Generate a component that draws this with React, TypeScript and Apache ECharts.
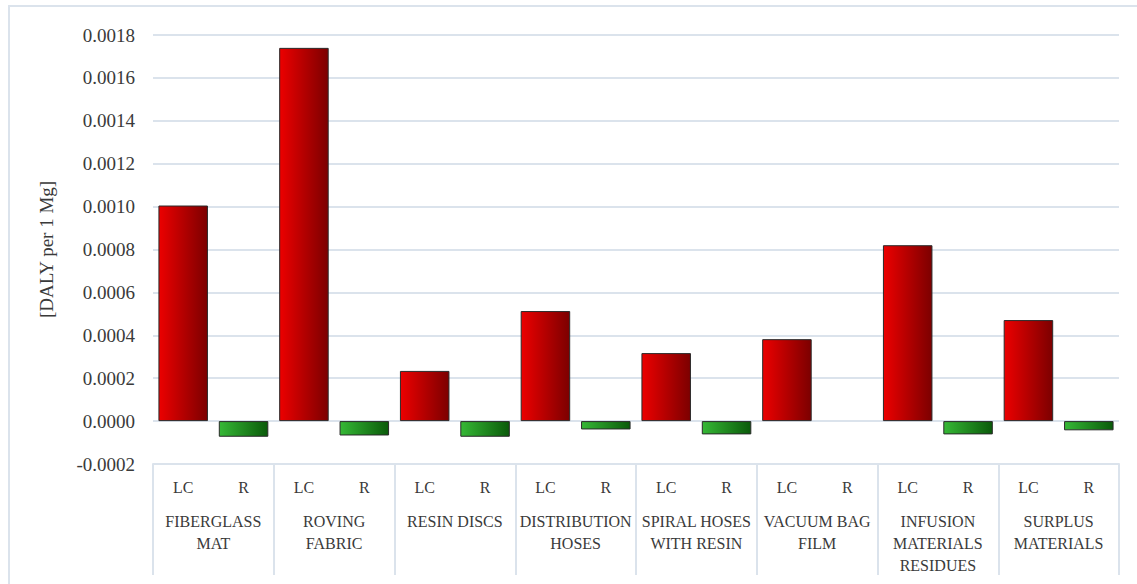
import React, { useEffect, useRef } from "react";
import * as echarts from "echarts";

// Material groups shown along the lower axis row
const groups = [
  "FIBERGLASS\nMAT",
  "ROVING\nFABRIC",
  "RESIN DISCS",
  "DISTRIBUTION\nHOSES",
  "SPIRAL HOSES\nWITH RESIN",
  "VACUUM BAG\nFILM",
  "INFUSION\nMATERIALS\nRESIDUES",
  "SURPLUS\nMATERIALS",
];

// Sub-categories inside every group
const subCategories = ["LC", "R"];

// [DALY per 1 Mg] for each group
const lcValues = [0.001005, 0.00174, 0.000234, 0.000513, 0.000317, 0.000382, 0.00082, 0.000471];
const rValues = [-0.000073, -0.000067, -0.000073, -0.000039, -0.000062, 0, -0.000062, -0.000043];

const yTicks = { min: -0.0002, max: 0.0018, interval: 0.0002 };

const FONT = "Liberation Serif";
const GRID_COLOR = "#dbe3ec";
const TEXT_COLOR = "#3a3a3a";

const redFill = new echarts.graphic.LinearGradient(0, 0, 1, 0, [
  { offset: 0, color: "#ec0000" },
  { offset: 1, color: "#7c0000" },
]);
const greenFill = new echarts.graphic.LinearGradient(0, 0, 1, 0, [
  { offset: 0, color: "#36b836" },
  { offset: 1, color: "#0a5a0a" },
]);

// zero-valued bars get no outline so that they stay invisible
const barItem = (value: number, fill: any) => ({
  value,
  itemStyle: { color: fill, borderWidth: value === 0 ? 0 : 1 },
});

export default function App() {
  const ref = useRef<HTMLDivElement>(null);

  useEffect(() => {
    document.body.style.margin = "0";
    if (!ref.current) return;
    const chart = echarts.init(ref.current, undefined, { renderer: "svg" });

    const subAxis: string[] = [];
    const barData: any[] = [];
    groups.forEach((_, i) => {
      subAxis.push(subCategories[0], subCategories[1]);
      barData.push(barItem(lcValues[i], redFill));
      barData.push(barItem(rValues[i], greenFill));
    });

    chart.setOption({
      animation: false,
      backgroundColor: "#ffffff",
      textStyle: { fontFamily: FONT },
      graphic: [
        {
          type: "rect",
          shape: { x: 9, y: 6, width: 1140, height: 600 },
          style: { fill: "none", stroke: GRID_COLOR, lineWidth: 2 },
          silent: true,
        },
      ],
      grid: { left: 153, right: 18, top: 35, bottom: 120 },
      xAxis: [
        {
          type: "category",
          data: subAxis,
          position: "bottom",
          axisLine: { show: true, onZero: false, lineStyle: { color: GRID_COLOR, width: 2 } },
          axisTick: { show: false },
          axisLabel: {
            interval: 0,
            margin: 15,
            fontFamily: FONT,
            fontSize: 16,
            color: TEXT_COLOR,
          },
        },
        {
          type: "category",
          data: groups,
          position: "bottom",
          axisLine: { show: false, onZero: false },
          axisTick: {
            show: true,
            interval: 0,
            length: 111,
            lineStyle: { color: GRID_COLOR, width: 2 },
          },
          axisLabel: {
            interval: 0,
            margin: 46,
            fontFamily: FONT,
            fontSize: 16,
            lineHeight: 22,
            color: TEXT_COLOR,
            verticalAlign: "top",
          },
        },
      ],
      yAxis: {
        type: "value",
        min: yTicks.min,
        max: yTicks.max,
        interval: yTicks.interval,
        name: "[DALY per 1 Mg]",
        nameLocation: "middle",
        nameGap: 97,
        nameRotate: 90,
        nameTextStyle: { fontFamily: FONT, fontSize: 19, color: TEXT_COLOR },
        axisLine: { show: false },
        axisTick: { show: false },
        splitLine: { lineStyle: { color: GRID_COLOR, width: 2 } },
        axisLabel: {
          margin: 18,
          fontFamily: FONT,
          fontSize: 19,
          color: TEXT_COLOR,
          formatter: (v: number) => v.toFixed(4),
        },
      },
      series: [
        {
          type: "bar",
          xAxisIndex: 0,
          data: barData,
          barCategoryGap: "18%",
          itemStyle: { borderColor: "#2a2a2a", borderWidth: 1 },
        },
      ],
    });

    return () => chart.dispose();
  }, []);

  return <div ref={ref} style={{ width: 1137, height: 584 }} />;
}
